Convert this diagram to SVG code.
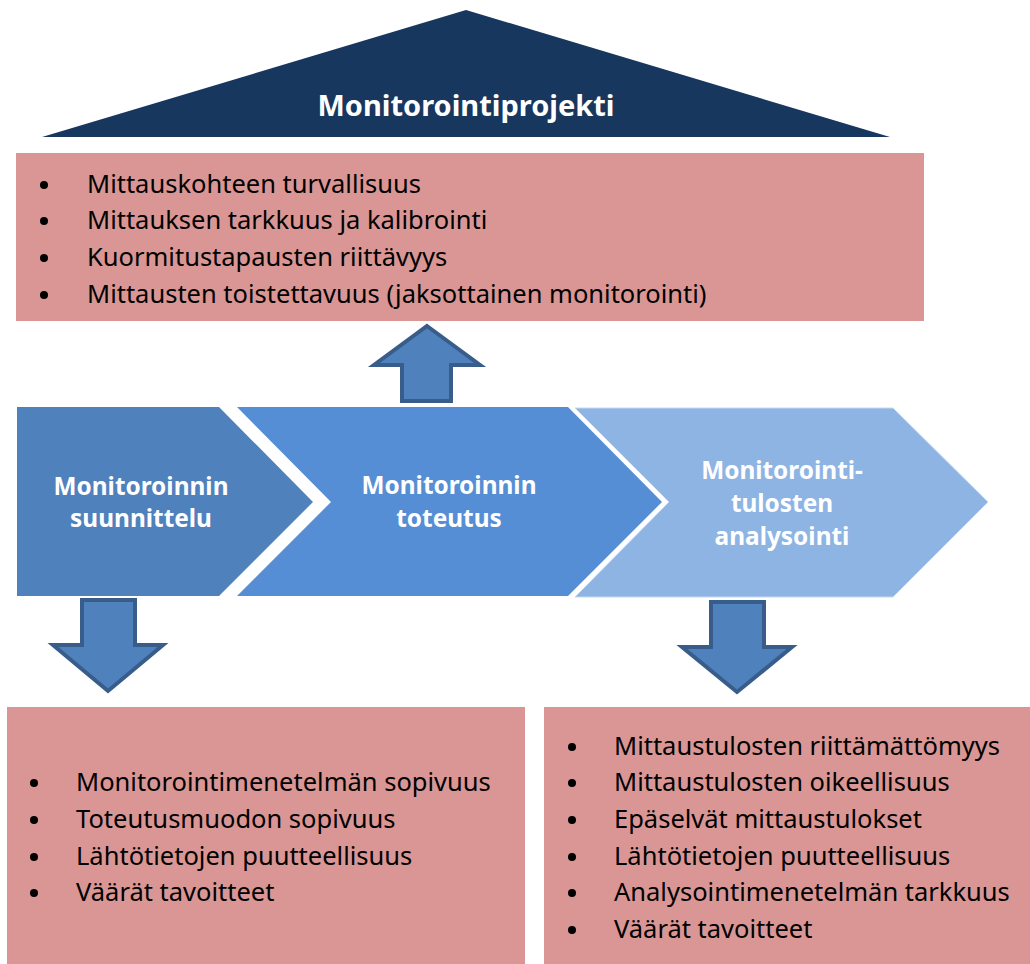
<svg xmlns="http://www.w3.org/2000/svg" width="1030" height="964" viewBox="0 0 1030 964">
<style>
.box{fill:#d99694;}
.li{font-family:"Noto Sans","Liberation Sans",sans-serif;font-size:25.5px;fill:#000;}
.hd{font-family:"Noto Sans","Liberation Sans",sans-serif;font-size:24.4px;font-weight:bold;fill:#fff;text-anchor:middle;}
.arr{fill:#4f81bd;stroke:#385d8a;stroke-width:4;}
.dot{fill:#000;}
</style>
<rect width="1030" height="964" fill="#fff"/>
<g id="project">
<polygon points="466,10 890,137 42,137" fill="#17375e"/>
<text x="466" y="116" class="hd" style="font-size:29px">Monitorointiprojekti</text>
</g>
<g id="top-box">
<rect class="box" x="16" y="153" width="908" height="168"/>
<g class="li">
<circle class="dot" cx="44" cy="185" r="4"/><text x="87" y="193">Mittauskohteen turvallisuus</text>
<circle class="dot" cx="44" cy="221" r="4"/><text x="87" y="229">Mittauksen tarkkuus ja kalibrointi</text>
<circle class="dot" cx="44" cy="258" r="4"/><text x="87" y="266">Kuormitustapausten riittävyys</text>
<circle class="dot" cx="44" cy="295" r="4"/><text x="87" y="303">Mittausten toistettavuus (jaksottainen monitorointi)</text>
</g>
</g>
<g id="step1">
<polygon points="17,407 219,407 313,502 219,596 17,596" fill="#4f81bd"/>
<text class="hd" x="141" y="495">Monitoroinnin</text>
<text class="hd" x="141" y="527">suunnittelu</text>
</g>
<g id="step2">
<polygon points="237,407 568,407 662,502 568,596 237,596 331,502" fill="#558ed5"/>
<text class="hd" x="449" y="494">Monitoroinnin</text>
<text class="hd" x="449" y="527">toteutus</text>
</g>
<g id="step3">
<polygon points="575,408 893,408 988,502 893,597 575,597 669,502" fill="#8eb4e3" stroke="#c6d9f1" stroke-width="1"/>
<text class="hd" x="782" y="479">Monitorointi-</text>
<text class="hd" x="782" y="512">tulosten</text>
<text class="hd" x="782" y="545">analysointi</text>
</g>
<g id="bottom-left-box">
<rect class="box" x="7" y="707" width="518" height="257"/>
<g class="li">
<circle class="dot" cx="34" cy="783" r="4"/><text x="76" y="791">Monitorointimenetelmän sopivuus</text>
<circle class="dot" cx="34" cy="820" r="4"/><text x="76" y="828">Toteutusmuodon sopivuus</text>
<circle class="dot" cx="34" cy="857" r="4"/><text x="76" y="865">Lähtötietojen puutteellisuus</text>
<circle class="dot" cx="34" cy="893" r="4"/><text x="76" y="901">Väärät tavoitteet</text>
</g>
</g>
<g id="bottom-right-box">
<rect class="box" x="544" y="707" width="486" height="257"/>
<g class="li">
<circle class="dot" cx="572" cy="747" r="4"/><text x="614" y="755">Mittaustulosten riittämättömyys</text>
<circle class="dot" cx="572" cy="783" r="4"/><text x="614" y="791">Mittaustulosten oikeellisuus</text>
<circle class="dot" cx="572" cy="820" r="4"/><text x="614" y="828">Epäselvät mittaustulokset</text>
<circle class="dot" cx="572" cy="857" r="4"/><text x="614" y="865">Lähtötietojen puutteellisuus</text>
<circle class="dot" cx="572" cy="893" r="4"/><text x="614" y="901">Analysointimenetelmän tarkkuus</text>
<circle class="dot" cx="572" cy="930" r="4"/><text x="614" y="938">Väärät tavoitteet</text>
</g>
</g>
<g id="connectors">
<polygon class="arr" points="427,326 480,365 451,365 451,401 402,401 402,365 374,365"/>
<polygon class="arr" points="82,600 135,600 135,645 163,645 108,691 53,645 82,645"/>
<polygon class="arr" points="711,602 764,602 764,647 792,647 737,692 682,647 711,647"/>
</g>
</svg>
